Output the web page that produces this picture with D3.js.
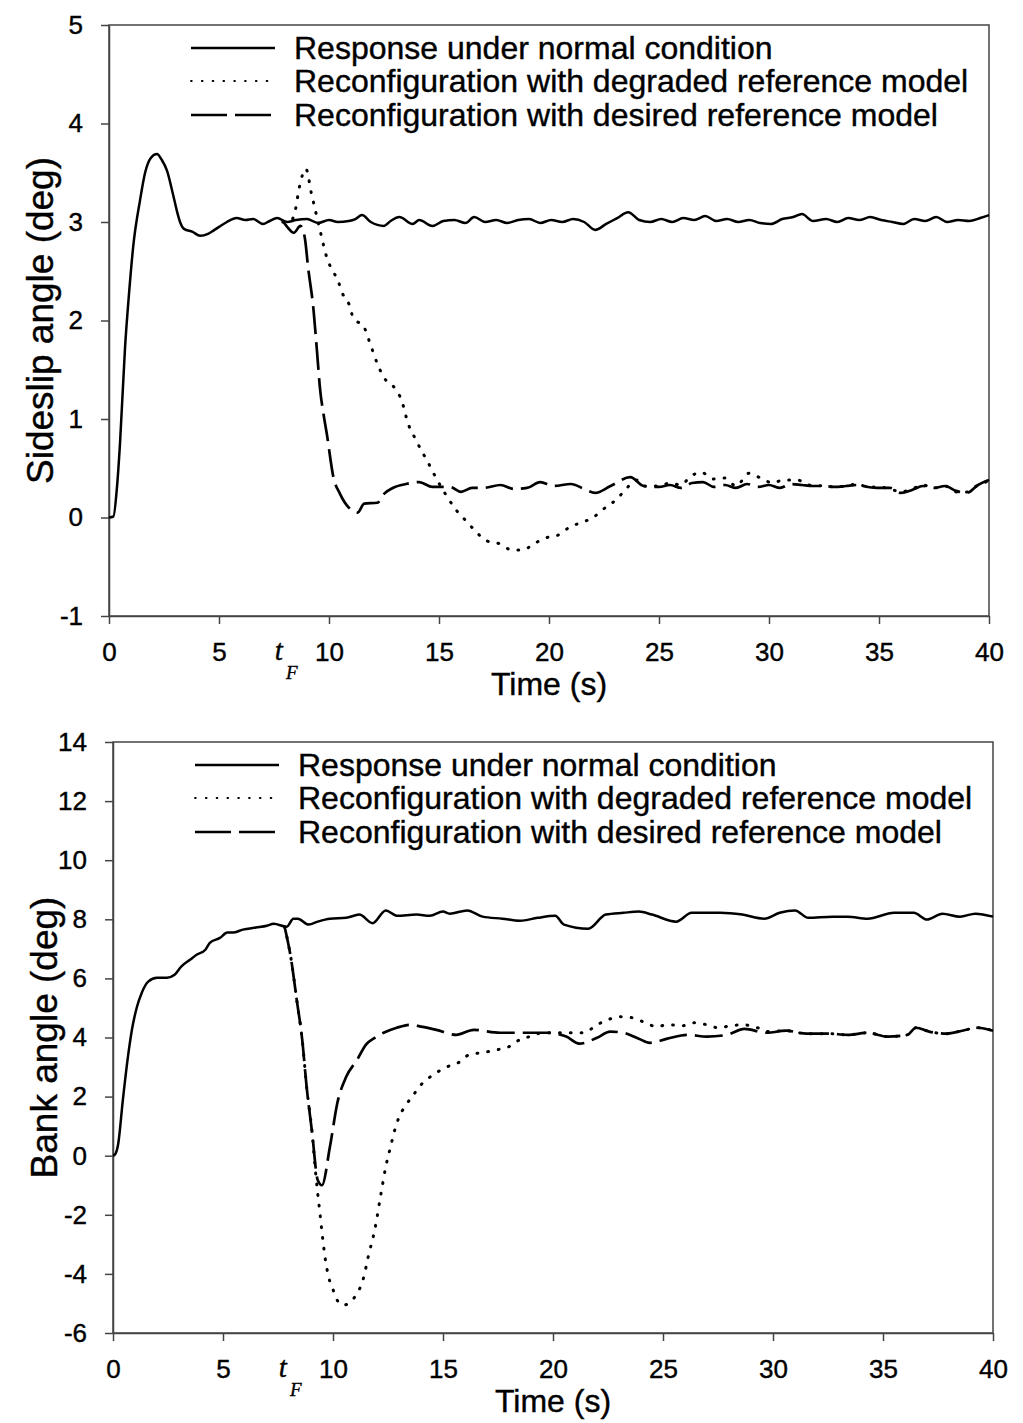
<!DOCTYPE html>
<html>
<head>
<meta charset="utf-8">
<script src="https://cdn.jsdelivr.net/npm/d3@7"></script>
<style>
  body { margin: 0; background: #fff; }
  svg { display: block; font-family: Arial, "Liberation Sans", sans-serif; }
  svg text { stroke: #000; stroke-width: 0.4px; }
</style>
</head>
<body>
<div id="chart"></div>
<script>
// time axis
const timeTicks = [0, 5, 10, 15, 20, 25, 30, 35, 40];
const faultTime = 7.9;

const legendLabels = [
  "Response under normal condition",
  "Reconfiguration with degraded reference model",
  "Reconfiguration with desired reference model"
];

// sideslip angle (deg)
const sideslipTicks = [-1, 0, 1, 2, 3, 4, 5];
const sideslipNormal = [
  [0, 0], [0.2, 0.01], [0.36, 0.3], [0.5, 0.75], [0.73, 1.73], [0.92, 2.3], [1.1, 2.75],
  [1.41, 3.22], [1.64, 3.5], [1.9, 3.65], [2.18, 3.69], [2.4, 3.63],
  [2.64, 3.52], [2.9, 3.29], [3.1, 3.1], [3.23, 3.0], [3.41, 2.93], [3.8, 2.9], [4.14, 2.86],
  [4.5, 2.88], [4.73, 2.91], [5.0, 2.95], [5.36, 3.0], [5.8, 3.04], [6.2, 3.02], [6.55, 3.03],
  [7.0, 2.98], [7.3, 3.01], [7.64, 3.04], [8.1, 3.0], [8.5, 3.02], [9.0, 3.03], [9.5, 2.99],
  [10.0, 3.02], [10.4, 3.0], [10.9, 3.01], [11.2, 3.03], [11.5, 3.07], [11.9, 3.0],
  [12.5, 2.96], [12.8, 3.01], [13.2, 3.05], [13.8, 2.98], [14.1, 3.02], [14.7, 2.96],
  [15.2, 3.01], [15.7, 3.02], [16.2, 2.99], [16.6, 3.05], [17.1, 3.0], [17.6, 3.02],
  [18.1, 2.99], [18.6, 3.02], [19.1, 3.03], [19.6, 2.99], [20.1, 3.02], [20.6, 3.0],
  [21.1, 3.03], [21.6, 3.0], [22.1, 2.92], [22.6, 2.98], [23.1, 3.04], [23.6, 3.1],
  [24.1, 3.02], [24.6, 3.0], [25.1, 3.03], [25.6, 3.0], [26.1, 3.04], [26.6, 3.02],
  [27.1, 3.06], [27.6, 3.01], [28.1, 3.03], [28.6, 3.0], [29.1, 3.02], [29.6, 2.99],
  [30.1, 2.98], [30.6, 3.03], [31.1, 3.05], [31.5, 3.08], [32.0, 3.01], [32.6, 3.03],
  [33.1, 3.0], [33.6, 3.04], [34.1, 3.02], [34.6, 3.05], [35.1, 3.02], [35.6, 3.0],
  [36.1, 2.98], [36.6, 3.03], [37.1, 3.01], [37.6, 3.05], [38.1, 3.0], [38.6, 3.02],
  [39.1, 3.01], [39.6, 3.04], [40, 3.07]
];
const sideslipDegraded = [
  [7.9, 3.0], [8.3, 3.02], [8.45, 3.1], [8.65, 3.35], [8.95, 3.54], [9.2, 3.29], [9.4, 3.1],
  [9.6, 2.91], [9.9, 2.64], [10.1, 2.53], [10.4, 2.41], [10.6, 2.28], [10.9, 2.17],
  [11.1, 2.03], [11.6, 1.93], [11.8, 1.81], [12.2, 1.56], [12.5, 1.42], [13.0, 1.31],
  [13.3, 1.19], [13.6, 0.95], [13.9, 0.81], [14.2, 0.68], [14.5, 0.56], [14.8, 0.43],
  [15.4, 0.2], [15.8, 0.07], [16.3, -0.05], [16.7, -0.15], [17.2, -0.24], [17.8, -0.27],
  [18.3, -0.33], [18.8, -0.33], [19.3, -0.27], [19.8, -0.21], [20.4, -0.18], [21.0, -0.09],
  [21.5, -0.05], [22.0, 0.0], [22.5, 0.09], [23.1, 0.19], [23.5, 0.29], [24.0, 0.38],
  [24.3, 0.32], [25, 0.32], [25.5, 0.35], [26, 0.33], [26.4, 0.41], [26.9, 0.46],
  [27.5, 0.39], [28, 0.4], [28.5, 0.32], [29.1, 0.45], [29.7, 0.39], [30.2, 0.35],
  [30.6, 0.38], [31.3, 0.38], [31.8, 0.33], [32.5, 0.32], [33, 0.31], [33.5, 0.32],
  [34, 0.34], [34.5, 0.31], [35, 0.31], [35.5, 0.29], [36, 0.26], [36.5, 0.29], [37, 0.33],
  [37.5, 0.3], [38, 0.32], [38.5, 0.26], [39, 0.26], [39.5, 0.33], [40, 0.37]
];
const sideslipDesired = [
  [7.9, 3.01], [8.1, 2.95], [8.4, 2.89], [8.7, 2.96], [8.9, 2.84], [9.05, 2.54], [9.3, 2.1],
  [9.45, 1.7], [9.6, 1.29], [9.75, 1.05], [9.9, 0.85], [10.2, 0.41], [10.5, 0.24],
  [10.9, 0.1], [11.3, 0.05], [11.6, 0.14], [12.2, 0.15], [12.5, 0.24], [12.9, 0.3],
  [13.5, 0.34], [14.1, 0.36], [14.7, 0.31], [15.5, 0.31], [16.0, 0.26], [16.5, 0.3],
  [17.0, 0.3], [17.8, 0.33], [18.4, 0.29], [19.0, 0.3], [19.6, 0.36], [20.2, 0.32],
  [21, 0.34], [21.6, 0.29], [22.1, 0.25], [22.8, 0.32], [23.7, 0.41], [24.3, 0.32],
  [25, 0.31], [25.5, 0.33], [26, 0.3], [26.5, 0.35], [27, 0.36], [27.5, 0.31], [28, 0.33],
  [28.5, 0.3], [29, 0.34], [29.5, 0.31], [30, 0.33], [30.5, 0.3], [31, 0.34], [31.5, 0.33],
  [32, 0.32], [32.5, 0.32], [33, 0.31], [33.5, 0.32], [34, 0.33], [34.5, 0.31], [35, 0.3],
  [35.5, 0.3], [36, 0.25], [36.5, 0.28], [37, 0.32], [37.5, 0.3], [38, 0.32], [38.5, 0.27],
  [39, 0.25], [39.5, 0.33], [40, 0.38]
];

// bank angle (deg)
const bankTicks = [-6, -4, -2, 0, 2, 4, 6, 8, 10, 12, 14];
const bankNormal = [
  [0, 0], [0.1, 0.05], [0.23, 0.37], [0.45, 1.9], [0.68, 3.35], [0.86, 4.26], [1.09, 5.04],
  [1.3, 5.5], [1.6, 5.89], [2.0, 6.02], [2.45, 6.02], [2.8, 6.12], [3.1, 6.4], [3.5, 6.63],
  [3.8, 6.8], [4.2, 6.97], [4.4, 7.2], [4.86, 7.37], [5.2, 7.55], [5.45, 7.55], [5.9, 7.65],
  [6.5, 7.72], [7.0, 7.78], [7.3, 7.85], [7.9, 7.75], [8.2, 8.02], [8.4, 8.02], [8.9, 7.82],
  [9.3, 7.92], [9.86, 8.02], [10.6, 8.05], [11.2, 8.16], [11.8, 7.87], [12.4, 8.3],
  [12.9, 8.12], [13.8, 8.16], [14.4, 8.12], [15.0, 8.26], [15.3, 8.19], [16.1, 8.3],
  [16.8, 8.09], [17.7, 8.02], [18.5, 7.95], [19.3, 8.05], [20.1, 8.12], [20.5, 7.82],
  [21.6, 7.68], [22.4, 8.16], [23.2, 8.22], [23.9, 8.26], [24.5, 8.16], [25.6, 7.92],
  [26.3, 8.22], [27.6, 8.22], [28.6, 8.16], [29.6, 8.02], [30.3, 8.22], [31, 8.3],
  [31.6, 8.05], [32.7, 8.09], [33.4, 8.09], [34.3, 8.02], [35.5, 8.22], [36.4, 8.22],
  [37, 7.99], [37.7, 8.19], [38.5, 8.09], [39.2, 8.19], [40, 8.09]
];
const bankDegraded = [
  [7.8, 7.75], [8.1, 6.63], [8.35, 5.28], [8.6, 3.93], [8.8, 2.34], [9.05, 0.78],
  [9.2, -0.5], [9.3, -1.25], [9.4, -1.9], [9.5, -2.6], [9.65, -3.5], [9.8, -4.1],
  [10.0, -4.53], [10.2, -4.9], [10.45, -5.06], [10.7, -5.0], [11.0, -4.77], [11.4, -4.1],
  [11.6, -3.42], [11.9, -2.5], [12.2, -1.2], [12.4, -0.37], [12.6, 0.25], [12.8, 0.85],
  [13.0, 1.3], [13.3, 1.7], [13.6, 2.0], [14.0, 2.4], [14.5, 2.71], [15.2, 3.01], [15.7, 3.15],
  [16.2, 3.42], [16.8, 3.49], [17.5, 3.59], [18, 3.69], [18.5, 3.93], [19.1, 4.06],
  [19.5, 4.16], [20.2, 4.16], [20.8, 4.16], [21.4, 4.16], [22.0, 4.43], [22.4, 4.57],
  [23.0, 4.7], [23.6, 4.67], [24.2, 4.5], [24.7, 4.37], [25.2, 4.43], [25.9, 4.4],
  [26.4, 4.5], [27, 4.43], [27.5, 4.33], [28.1, 4.4], [28.6, 4.43], [29.3, 4.33],
  [29.7, 4.2], [30.6, 4.23], [31.5, 4.13], [32.5, 4.13], [33.4, 4.09], [34.3, 4.16],
  [35.2, 4.03], [36.1, 4.09], [36.5, 4.33], [37.1, 4.2], [37.9, 4.13], [38.6, 4.23],
  [39.3, 4.33], [40, 4.23]
];
const bankDesired = [
  [7.8, 7.75], [8.1, 6.63], [8.35, 5.28], [8.6, 3.93], [8.8, 2.34], [9.05, 0.78],
  [9.3, -0.81], [9.5, -1.0], [9.86, 0.3], [10.2, 1.79], [10.6, 2.67], [11.1, 3.25],
  [11.5, 3.76], [11.9, 3.99], [12.3, 4.16], [12.9, 4.33], [13.5, 4.43], [14.0, 4.37],
  [14.7, 4.26], [15.6, 4.09], [16.4, 4.26], [17.6, 4.16], [18.4, 4.16], [19.1, 4.16],
  [19.7, 4.16], [20.6, 4.03], [21.2, 3.79], [22.0, 3.99], [22.6, 4.2], [23.2, 4.16],
  [23.9, 3.96], [24.4, 3.82], [25.2, 3.96], [26.1, 4.09], [27, 4.03], [27.9, 4.09],
  [28.7, 4.29], [29.7, 4.16], [30.6, 4.23], [31.5, 4.13], [32.5, 4.13], [33.4, 4.09],
  [34.3, 4.16], [35.2, 4.03], [36.1, 4.09], [36.5, 4.33], [37.1, 4.2], [37.9, 4.13],
  [38.6, 4.23], [39.3, 4.33], [40, 4.23]
];

const W = 1023, H = 1423;
const styles = [
  { dash: null, cap: "butt", width: 2.5 },
  { dash: "0.8,10", cap: "round", width: 3 },
  { dash: "28,8", cap: "butt", width: 2.7 }
];

const svg = d3.select("#chart").append("svg")
  .attr("width", W)
  .attr("height", H);

svg.append("rect").attr("width", W).attr("height", H).attr("fill", "#fff");

function drawPanel(cfg) {
  const x = d3.scaleLinear().domain([0, 40]).range([cfg.left, cfg.right]);
  const y = d3.scaleLinear().domain(cfg.domain).range([cfg.bottom, cfg.top]);
  const g = svg.append("g");

  // frame
  g.append("rect")
    .attr("x", x(0)).attr("y", y(cfg.domain[1]))
    .attr("width", x(40) - x(0)).attr("height", y(cfg.domain[0]) - y(cfg.domain[1]))
    .attr("fill", "none").attr("stroke", "#444").attr("stroke-width", 1.5);

  // axes
  const xAxis = g.append("g")
    .attr("transform", `translate(0,${y(cfg.domain[0])})`)
    .call(d3.axisBottom(x).tickValues(timeTicks).tickSize(8).tickSizeOuter(0)
      .tickPadding(19).tickFormat(d => String(d)));
  const yAxis = g.append("g")
    .attr("transform", `translate(${x(0)},0)`)
    .call(d3.axisLeft(y).tickValues(cfg.ticks).tickSize(8).tickSizeOuter(0)
      .tickPadding(18).tickFormat(d => String(d)));
  [xAxis, yAxis].forEach(a => {
    a.select(".domain").attr("stroke", "#444").attr("stroke-width", 1.5);
    a.selectAll(".tick line").attr("stroke", "#444").attr("stroke-width", 1.5);
    a.selectAll("text").attr("fill", "#000").style("font-size", "26px")
      .style("font-family", "Arial, 'Liberation Sans', sans-serif");
  });

  // fault time label
  g.append("text")
    .attr("x", x(faultTime) - 4)
    .attr("y", y(cfg.domain[0]) + 44)
    .attr("text-anchor", "middle")
    .style("font-family", "'Liberation Serif', 'Times New Roman', serif")
    .style("font-style", "italic")
    .style("font-size", "29px")
    .text("t");
  g.append("text")
    .attr("x", x(faultTime) + 9)
    .attr("y", y(cfg.domain[0]) + 63)
    .attr("text-anchor", "middle")
    .style("font-family", "'Liberation Serif', 'Times New Roman', serif")
    .style("font-style", "italic")
    .style("font-size", "19px")
    .text("F");

  // titles
  g.append("text")
    .attr("x", (x(0) + x(40)) / 2)
    .attr("y", y(cfg.domain[0]) + 79)
    .attr("text-anchor", "middle")
    .style("font-size", "32px")
    .text("Time (s)");
  g.append("text")
    .attr("transform", `translate(${x(0) - 56},${(y(cfg.domain[0]) + y(cfg.domain[1])) / 2}) rotate(-90)`)
    .attr("text-anchor", "middle")
    .style("font-size", "37px")
    .text(cfg.yTitle);

  // series
  const line = d3.line()
    .x(d => x(d[0]))
    .y(d => y(d[1]))
    .curve(d3.curveMonotoneX);

  cfg.series.forEach((s, i) => {
    const st = styles[i];
    g.append("path")
      .datum(s)
      .attr("fill", "none")
      .attr("stroke", "#000")
      .attr("stroke-width", st.width)
      .attr("stroke-linecap", st.cap)
      .attr("stroke-linejoin", "round")
      .attr("stroke-dasharray", st.dash)
      .attr("d", line);
  });

  // legend
  const rowY = [23, 56, 90];
  legendLabels.forEach((label, i) => {
    const st = styles[i];
    const ly = y(cfg.domain[1]) + rowY[i];
    g.append("line")
      .attr("x1", x(0) + 82).attr("x2", x(0) + 166)
      .attr("y1", ly).attr("y2", ly)
      .attr("stroke", "#000")
      .attr("stroke-width", i === 1 ? 1.8 : 2.4)
      .attr("stroke-linecap", st.cap)
      .attr("stroke-dasharray", i === 2 ? "36,8" : st.dash);
    g.append("text")
      .attr("x", x(0) + 185)
      .attr("y", ly)
      .attr("dy", "0.35em")
      .style("font-size", "32px")
      .text(label);
  });
}

drawPanel({
  left: 109, right: 989, top: 25, bottom: 616,
  domain: [-1, 5], ticks: sideslipTicks,
  yTitle: "Sideslip angle (deg)",
  series: [sideslipNormal, sideslipDegraded, sideslipDesired]
});

drawPanel({
  left: 113, right: 993, top: 742, bottom: 1333,
  domain: [-6, 14], ticks: bankTicks,
  yTitle: "Bank angle (deg)",
  series: [bankNormal, bankDegraded, bankDesired]
});
</script>
</body>
</html>
